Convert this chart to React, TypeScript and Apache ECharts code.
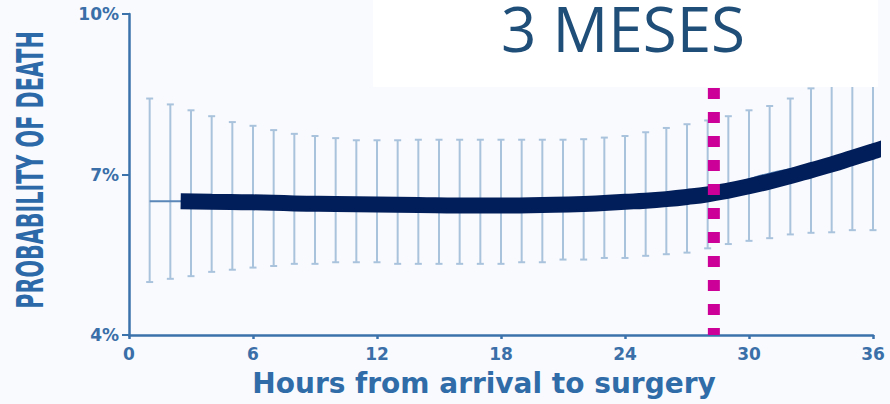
import React, { useEffect, useRef } from 'react';
import * as echarts from 'echarts';

// Hourly confidence intervals for probability of death (%)
const hours = [
  1, 2, 3, 4, 5, 6, 7, 8, 9, 10, 11, 12, 13, 14, 15, 16, 17, 18,
  19, 20, 21, 22, 23, 24, 25, 26, 27, 28, 29, 30, 31, 32, 33, 34, 35, 36,
];
const upper = [
  8.42, 8.31, 8.2, 8.09, 7.98, 7.91, 7.83, 7.76, 7.72, 7.68, 7.64, 7.64,
  7.64, 7.65, 7.65, 7.65, 7.65, 7.65, 7.65, 7.65, 7.65, 7.66, 7.69, 7.72,
  7.79, 7.87, 7.94, 8.01, 8.09, 8.2, 8.28, 8.42, 8.61, 8.8, 9.0, 9.2,
];
const lower = [
  4.99, 5.05, 5.1, 5.18, 5.22, 5.26, 5.29, 5.33, 5.33, 5.36, 5.36, 5.36,
  5.33, 5.33, 5.33, 5.33, 5.33, 5.33, 5.36, 5.36, 5.41, 5.41, 5.44, 5.44,
  5.48, 5.51, 5.54, 5.62, 5.7, 5.76, 5.81, 5.88, 5.91, 5.92, 5.96, 5.96,
];

// Raw estimate (thin line)
const rawHours = [1, 2.5, 6, 12, 18, 24, 28, 29, 30, 31, 32, 33, 34, 36];
const rawRisk = [6.5, 6.5, 6.48, 6.44, 6.42, 6.49, 6.63, 6.78, 6.91, 7.02, 7.1, 7.16, 7.21, 7.43];

// Smoothed fit (thick line)
const fitHours = [2.5, 4, 6, 8, 10, 12, 14, 16, 18, 20, 22, 24, 25, 26, 27, 28, 29, 30, 31, 32, 33, 34, 35, 36, 36.8];
const fitRisk = [
  6.5, 6.49, 6.48, 6.46, 6.45, 6.44, 6.43, 6.42, 6.42, 6.43, 6.45, 6.49,
  6.51, 6.54, 6.58, 6.63, 6.7, 6.78, 6.87, 6.97, 7.08, 7.19, 7.31, 7.43, 7.53,
];

const cutoffHour = 28.3;
const yMin = 4;
const yMax = 10;
const yStep = 3;
const xMin = 0;
const xMax = 36;
const xStep = 6;

const xTitle = 'Hours from arrival to surgery';
const yTitle = 'PROBABILITY OF DEATH';
const banner = '3 MESES';

const axisBlue = '#3b72ac';
const labelBlue = '#3a6fa8';
const barBlue = '#aac3dd';

export default function App() {
  const ref = useRef<HTMLDivElement>(null);

  useEffect(() => {
    document.body.style.margin = '0';
    if (!ref.current) return;
    const chart = echarts.init(ref.current, null, { renderer: 'svg' });

    const ciData = hours.map((h, i) => [h, lower[i], upper[i]]);

    chart.setOption({
      animation: false,
      backgroundColor: '#f9fafd',
      grid: { left: 129, right: 17, top: 14, bottom: 69, containLabel: false },
      xAxis: {
        type: 'value',
        min: xMin,
        max: xMax,
        interval: xStep,
        name: xTitle,
        nameLocation: 'middle',
        nameGap: 34,
        nameTextStyle: {
          fontFamily: 'DejaVu Sans',
          fontWeight: 'bold',
          fontSize: 28,
          color: '#2f6ca8',
          padding: [0, 34, 0, 0],
        },
        axisLine: { lineStyle: { color: axisBlue, width: 2.5 } },
        axisTick: { length: 4, lineStyle: { color: axisBlue, width: 2.5 } },
        axisLabel: {
          margin: 10,
          fontFamily: 'DejaVu Sans',
          fontWeight: 'bold',
          fontSize: 17,
          color: labelBlue,
        },
        splitLine: { show: false },
      },
      yAxis: {
        type: 'value',
        min: yMin,
        max: yMax,
        interval: yStep,
        axisLine: { show: true, lineStyle: { color: axisBlue, width: 2.5 } },
        axisTick: { show: true, length: 7, lineStyle: { color: axisBlue, width: 2 } },
        axisLabel: {
          margin: 10,
          fontFamily: 'DejaVu Sans',
          fontWeight: 'bold',
          fontSize: 17,
          color: labelBlue,
          formatter: (v: number) => `${v}%`,
        },
        splitLine: { show: false },
      },
      series: [
        {
          type: 'custom',
          z: 1,
          data: ciData,
          encode: { x: 0, y: [1, 2] },
          renderItem: (params: any, api: any) => {
            const top = api.coord([api.value(0), api.value(2)]);
            const bot = api.coord([api.value(0), api.value(1)]);
            const half = 3.5;
            const style = { stroke: barBlue, lineWidth: 2 };
            return {
              type: 'group',
              children: [
                { type: 'line', shape: { x1: top[0], y1: top[1], x2: bot[0], y2: bot[1] }, style },
                { type: 'line', shape: { x1: top[0] - half, y1: top[1], x2: top[0] + half, y2: top[1] }, style },
                { type: 'line', shape: { x1: bot[0] - half, y1: bot[1], x2: bot[0] + half, y2: bot[1] }, style },
              ],
            };
          },
        },
        {
          type: 'line',
          z: 2,
          data: rawHours.map((h, i) => [h, rawRisk[i]]),
          smooth: true,
          showSymbol: false,
          lineStyle: { color: '#5b86b8', width: 2 },
        },
        {
          type: 'line',
          z: 3,
          clip: false,
          data: fitHours.map((h, i) => [h, fitRisk[i]]),
          smooth: true,
          showSymbol: false,
          lineStyle: { color: '#021e5a', width: 16, cap: 'butt' },
        },
        {
          type: 'line',
          z: 4,
          data: [
            [cutoffHour, yMin],
            [cutoffHour, yMax],
          ],
          showSymbol: false,
          lineStyle: { color: '#cc0099', width: 12, type: [11, 13], dashOffset: 4, cap: 'butt' },
        },
      ],
      graphic: [
        {
          type: 'text',
          z: 50,
          x: 30,
          y: 170,
          rotation: Math.PI / 2,
          scaleX: 0.56,
          style: {
            text: yTitle,
            fontFamily: 'DejaVu Sans',
            fontWeight: 'bold',
            fontSize: 37,
            fill: '#2c69a9',
            align: 'center',
            verticalAlign: 'middle',
          },
        },
        {
          type: 'rect',
          z: 100,
          shape: { x: 373, y: 0, width: 505, height: 87 },
          style: { fill: '#ffffff' },
        },
        {
          type: 'text',
          z: 101,
          x: 623,
          y: 28,
          style: {
            text: banner,
            fontFamily: 'Open Sans',
            fontSize: 62,
            lineHeight: 56,
            fill: '#1f4e79',
            align: 'center',
            verticalAlign: 'middle',
          },
        },
      ],
    });

    return () => chart.dispose();
  }, []);

  return <div ref={ref} style={{ width: 890, height: 404 }} />;
}
